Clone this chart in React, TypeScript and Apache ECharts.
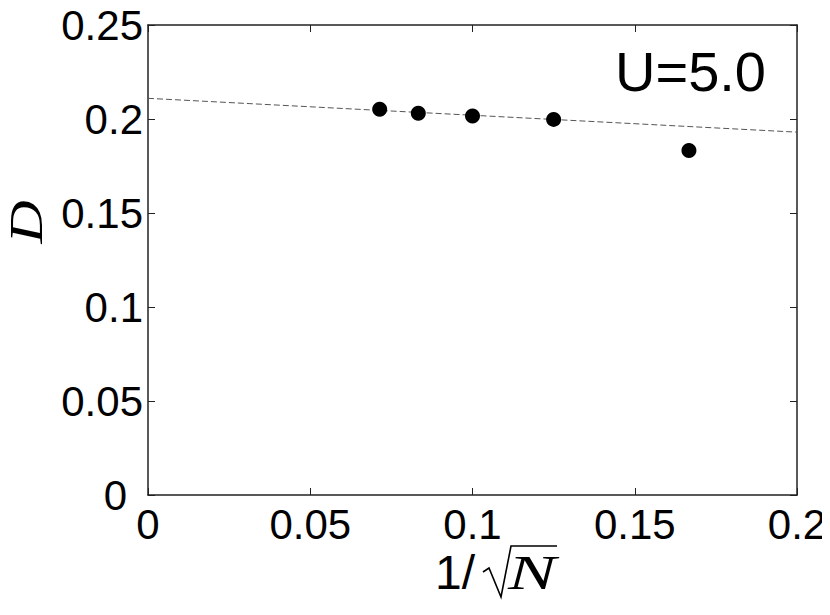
import React, { useEffect, useRef } from "react";
import * as echarts from "echarts";

const invSqrtN = [0.0714, 0.0833, 0.1, 0.125, 0.1667];
const dValues = [0.2052, 0.203, 0.2016, 0.1998, 0.1833];
const fitX = [0, 0.2];
const fitY = [0.211, 0.193];
const xTicks = [0, 0.05, 0.1, 0.15, 0.2];
const yTicks = [0, 0.05, 0.1, 0.15, 0.2, 0.25];
const label = "U=5.0";

const FONT = "'Liberation Sans', Arial, Helvetica, sans-serif";
const SERIF = "'Liberation Serif', 'DejaVu Serif', serif";

export default function App() {
  const ref = useRef<HTMLDivElement>(null);
  useEffect(() => {
    if (!ref.current) return;
    const chart = echarts.init(ref.current, null, { renderer: "svg" });
    const axisLine = { show: true, onZero: false, lineStyle: { color: "#222", width: 1.5 } };
    const tick = { show: true, inside: true, length: 7, lineStyle: { color: "#222", width: 1 } };
    const fmt = (v: number) => String(+v.toFixed(2));
    const yfmt = (v: number) => (v === 0 ? "{z|0}" : String(+v.toFixed(2)));
    chart.setOption({
      animation: false,
      grid: { left: 148, top: 25, width: 649, height: 470, containLabel: false },
      xAxis: [
        {
          type: "value", min: xTicks[0], max: xTicks[xTicks.length - 1], interval: 0.05, position: "bottom",
          axisLine, axisTick: tick, splitLine: { show: false },
          axisLabel: { color: "#000", fontSize: 42, fontFamily: FONT, margin: 8, formatter: fmt },
        },
        {
          type: "value", min: xTicks[0], max: xTicks[xTicks.length - 1], interval: 0.05, position: "top",
          axisLine, axisTick: tick, splitLine: { show: false }, axisLabel: { show: false },
        },
      ],
      yAxis: [
        {
          type: "value", min: yTicks[0], max: yTicks[yTicks.length - 1], interval: 0.05, position: "left",
          axisLine, axisTick: tick, splitLine: { show: false },
          axisLabel: {
            color: "#000", fontSize: 42, fontFamily: FONT, margin: 5, formatter: yfmt,
            rich: { z: { color: "#000", fontSize: 42, fontFamily: FONT, padding: [0, 16, 0, 0] } },
          },
        },
        {
          type: "value", min: yTicks[0], max: yTicks[yTicks.length - 1], interval: 0.05, position: "right",
          axisLine, axisTick: tick, splitLine: { show: false }, axisLabel: { show: false },
        },
      ],
      series: [
        {
          type: "line",
          data: fitX.map((x, i) => [x, fitY[i]]),
          showSymbol: false,
          lineStyle: { color: "#555", width: 1, type: [6, 3] },
          z: 1,
        },
        {
          type: "scatter",
          data: invSqrtN.map((x, i) => [x, dValues[i]]),
          symbol: "circle",
          symbolSize: 15,
          itemStyle: { color: "#000", opacity: 1 },
          z: 2,
        },
      ],
      graphic: [
        {
          type: "text", x: 615, y: 43,
          style: { text: label, font: `56px ${FONT}`, fill: "#000" },
        },
        {
          type: "text", x: 435, y: 548,
          style: { text: "1/", font: `48px ${FONT}`, fill: "#000" },
        },
        {
          type: "polyline",
          shape: { points: [[483, 572], [489, 568], [501, 597], [511, 546], [557, 546]] },
          style: { stroke: "#000", lineWidth: 1.6, fill: null, lineJoin: "miter" },
        },
        {
          type: "text", x: 508, y: 549, scaleX: 1.5,
          style: { text: "N", font: `italic 48px ${SERIF}`, fill: "#000" },
        },
        {
          type: "text", x: 26, y: 222, rotation: Math.PI / 2, scaleX: 1.3,
          style: {
            text: "D", font: `italic 46px ${SERIF}`, fill: "#000",
            align: "center", verticalAlign: "middle",
          },
        },
      ],
    });
    return () => chart.dispose();
  }, []);
  return <div ref={ref} style={{ width: 830, height: 615, margin: -8 }} />;
}
